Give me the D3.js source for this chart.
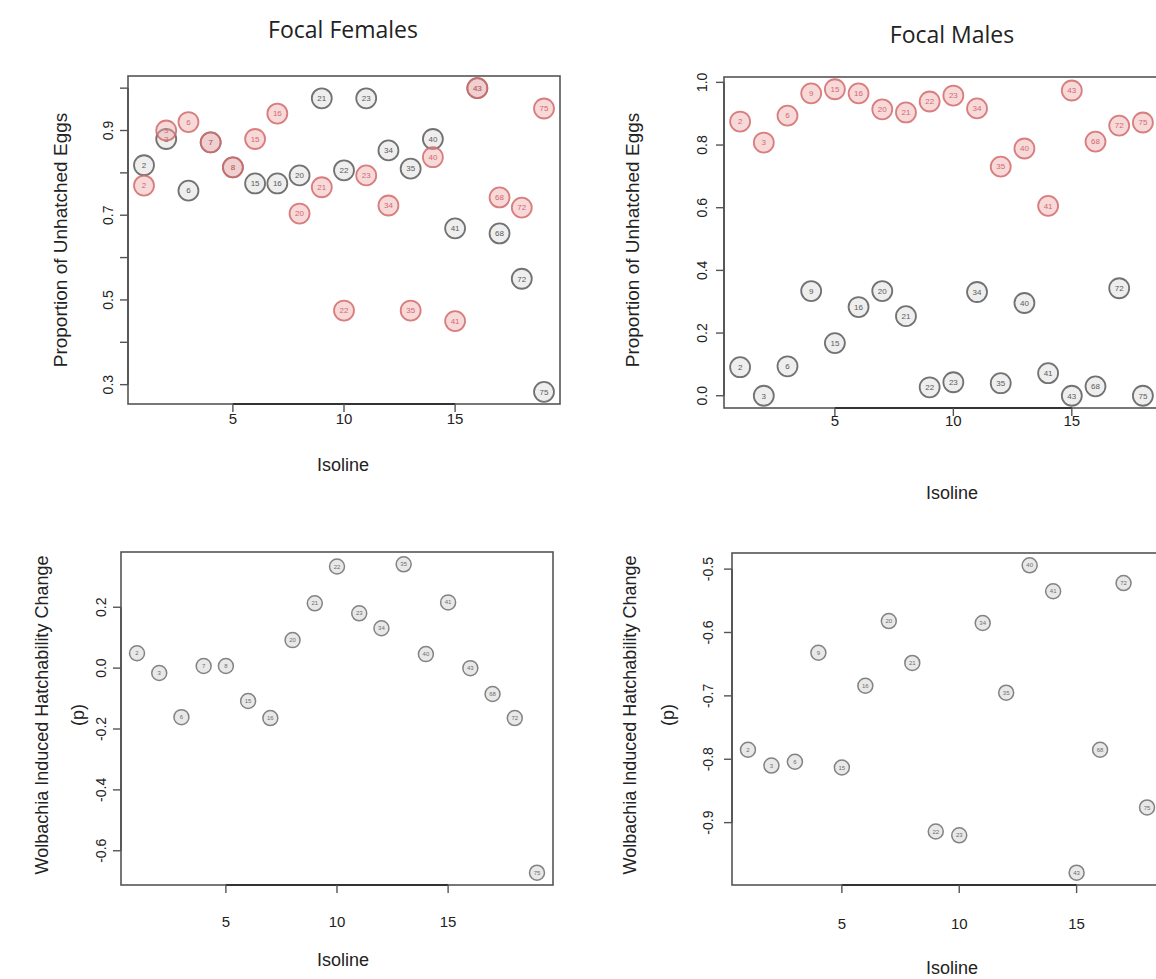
<!DOCTYPE html>
<html>
<head>
<meta charset="utf-8">
<script src="https://cdn.jsdelivr.net/npm/d3@7"></script>
<style>
  body { margin: 0; background: #fff; }
  svg { display: block; }
</style>
</head>
<body>
<svg id="chart" width="1156" height="979"></svg>
<script>
// isoline labels
var femaleIsolines = ["2","3","6","7","8","15","16","20","21","22","23","34","35","40","41","43","68","72","75"];
var maleIsolines   = ["2","3","6","9","15","16","20","21","22","23","34","35","40","41","43","68","72","75"];

// proportion of unhatched eggs (red = infected, gray = uninfected)
var femaleRed  = [0.77,0.90,0.92,0.872,0.813,0.88,0.94,0.704,0.766,0.475,0.794,0.723,0.475,0.837,0.45,1.0,0.742,0.718,0.952];
var femaleGray = [0.818,0.88,0.758,0.872,0.813,0.775,0.775,0.794,0.976,0.806,0.976,0.853,0.81,0.88,0.669,1.0,0.657,0.55,0.283];
var maleRed    = [0.875,0.808,0.894,0.965,0.978,0.965,0.914,0.904,0.939,0.958,0.917,0.731,0.789,0.606,0.974,0.811,0.862,0.872];
var maleGray   = [0.091,0.0,0.094,0.334,0.168,0.283,0.334,0.254,0.027,0.043,0.331,0.040,0.296,0.072,0.0,0.03,0.343,0.0];

// wolbachia induced hatchability change
var femaleChange = [0.049,-0.016,-0.161,0.007,0.007,-0.108,-0.164,0.092,0.213,0.334,0.18,0.131,0.341,0.046,0.216,0.0,-0.085,-0.164,-0.672];
var maleChange   = [-0.785,-0.81,-0.804,-0.632,-0.813,-0.684,-0.582,-0.648,-0.914,-0.92,-0.585,-0.695,-0.494,-0.535,-0.979,-0.785,-0.522,-0.876];

var xTicks = [5, 10, 15];
var yTicksTL = [0.3,0.4,0.5,0.6,0.7,0.8,0.9,1.0];
var yLabelsTL = [0.3,0.5,0.7,0.9];
var yTicksTR = [0.0,0.2,0.4,0.6,0.8,1.0];
var yTicksBL = [-0.6,-0.4,-0.2,0.0,0.2];
var yTicksBR = [-0.9,-0.8,-0.7,-0.6,-0.5];

var svg = d3.select("#chart");
var axisColor = "#555";

// R style 4% padding
function pad(ext) {
  var d = (ext[1] - ext[0]) * 0.04;
  return [ext[0] - d, ext[1] + d];
}

function panel(o) {
  var n = o.labels.length;
  var all = [].concat.apply([], o.series.map(function(s) { return s.values; }));
  var x = d3.scaleLinear().domain(pad([1, n])).range([o.left, o.right]);
  var y = d3.scaleLinear().domain(pad(d3.extent(all))).range([o.bottom, o.top]);

  var g = svg.append("g");

  // box
  g.append("rect")
    .attr("x", o.left).attr("y", o.top)
    .attr("width", o.right - o.left).attr("height", o.bottom - o.top)
    .attr("fill", "none").attr("stroke", axisColor).attr("stroke-width", 1.6);

  // x axis (line spans first to last tick like base R)
  g.append("line")
    .attr("x1", x(xTicks[0])).attr("x2", x(xTicks[xTicks.length - 1]))
    .attr("y1", o.bottom).attr("y2", o.bottom)
    .attr("stroke", "#333").attr("stroke-width", 2.2);
  xTicks.forEach(function(t) {
    g.append("line")
      .attr("x1", x(t)).attr("x2", x(t))
      .attr("y1", o.bottom).attr("y2", o.bottom + 8)
      .attr("stroke", axisColor).attr("stroke-width", 1.4);
    g.append("text")
      .attr("x", x(t)).attr("y", o.bottom + o.xLabelDy)
      .attr("text-anchor", "middle")
      .attr("font-family", "Liberation Sans, Arial, sans-serif")
      .attr("font-size", 15).attr("fill", "#222")
      .text(t);
  });

  // y axis
  g.append("line")
    .attr("x1", o.left).attr("x2", o.left)
    .attr("y1", y(o.yTicks[0])).attr("y2", y(o.yTicks[o.yTicks.length - 1]))
    .attr("stroke", axisColor).attr("stroke-width", 1.8);
  o.yTicks.forEach(function(t) {
    g.append("line")
      .attr("x1", o.left - 8).attr("x2", o.left)
      .attr("y1", y(t)).attr("y2", y(t))
      .attr("stroke", axisColor).attr("stroke-width", 1.4);
  });
  o.yLabels.forEach(function(t) {
    g.append("text")
      .attr("transform", "translate(" + (o.left - o.yLabelDx) + "," + y(t) + ") rotate(-90)")
      .attr("text-anchor", "middle")
      .attr("dy", "0.35em")
      .attr("font-family", "Liberation Sans, Arial, sans-serif")
      .attr("font-size", 14).attr("fill", "#222")
      .text(d3.format(".1f")(t).replace("−", "-"));
  });

  // points
  o.series.forEach(function(s) {
    var pts = g.append("g").selectAll("g")
      .data(s.values.map(function(v, i) { return {v: v, i: i + 1, lab: o.labels[i]}; }))
      .join("g")
      .attr("transform", function(d) { return "translate(" + x(d.i) + "," + y(d.v) + ")"; });
    pts.append("circle")
      .attr("r", o.r)
      .attr("fill", s.fill)
      .attr("stroke", s.stroke)
      .attr("stroke-opacity", 0.85)
      .attr("stroke-width", o.r > 9 ? 1.8 : 1.5);
    pts.append("text")
      .attr("text-anchor", "middle")
      .attr("dy", "0.35em")
      .attr("font-family", "Liberation Sans, Arial, sans-serif")
      .attr("font-size", o.r > 9 ? 8 : 6)
      .attr("fill", s.stroke)
      .text(function(d) { return d.lab; });
  });
}

var redS  = {stroke: "#d26a6a", fill: "rgba(240,170,170,0.45)"};
var grayS = {stroke: "#5a5a5a", fill: "rgba(200,200,200,0.3)"};
var graySm = {stroke: "#6e6e6e", fill: "rgba(190,190,190,0.35)"};

panel({left: 128, right: 560, top: 76, bottom: 404, labels: femaleIsolines,
  series: [Object.assign({values: femaleGray}, grayS), Object.assign({values: femaleRed}, redS)],
  yTicks: yTicksTL, yLabels: yLabelsTL, r: 10, xLabelDy: 20, yLabelDx: 20});

panel({left: 724, right: 1159, top: 77, bottom: 408, labels: maleIsolines,
  series: [Object.assign({values: maleGray}, grayS), Object.assign({values: maleRed}, redS)],
  yTicks: yTicksTR, yLabels: yTicksTR, r: 10, xLabelDy: 18, yLabelDx: 22});

panel({left: 121, right: 553, top: 552, bottom: 885, labels: femaleIsolines,
  series: [Object.assign({values: femaleChange}, graySm)],
  yTicks: yTicksBL, yLabels: yTicksBL, r: 7.5, xLabelDy: 42, yLabelDx: 20});

panel({left: 732, right: 1163, top: 553, bottom: 885, labels: maleIsolines,
  series: [Object.assign({values: maleChange}, graySm)],
  yTicks: yTicksBR, yLabels: yTicksBR, r: 7.5, xLabelDy: 44, yLabelDx: 24});

// titles
function label(txt, xp, yp, size, rot, family) {
  svg.append("text")
    .attr("transform", "translate(" + xp + "," + yp + ")" + (rot ? " rotate(-90)" : ""))
    .attr("text-anchor", "middle")
    .attr("dy", "0.35em")
    .attr("font-family", family || "Liberation Sans, Arial, sans-serif")
    .attr("font-size", size).attr("fill", "#222")
    .text(txt);
}
label("Focal Females", 343, 30, 23, false, "Open Sans, sans-serif");
label("Focal Males", 952, 35, 23, false, "Open Sans, sans-serif");
label("Isoline", 343, 465, 18);
label("Isoline", 952, 493, 18);
label("Isoline", 343, 960, 18);
label("Isoline", 952, 968, 18);
label("Proportion of Unhatched Eggs", 60, 240, 19, true);
label("Proportion of Unhatched Eggs", 632, 240, 19, true);
label("Wolbachia Induced Hatchability Change", 42, 715, 18, true);
label("(p)", 78, 715, 18, true);
label("Wolbachia Induced Hatchability Change", 630, 715, 18, true);
label("(p)", 668, 715, 18, true);
</script>
</body>
</html>
